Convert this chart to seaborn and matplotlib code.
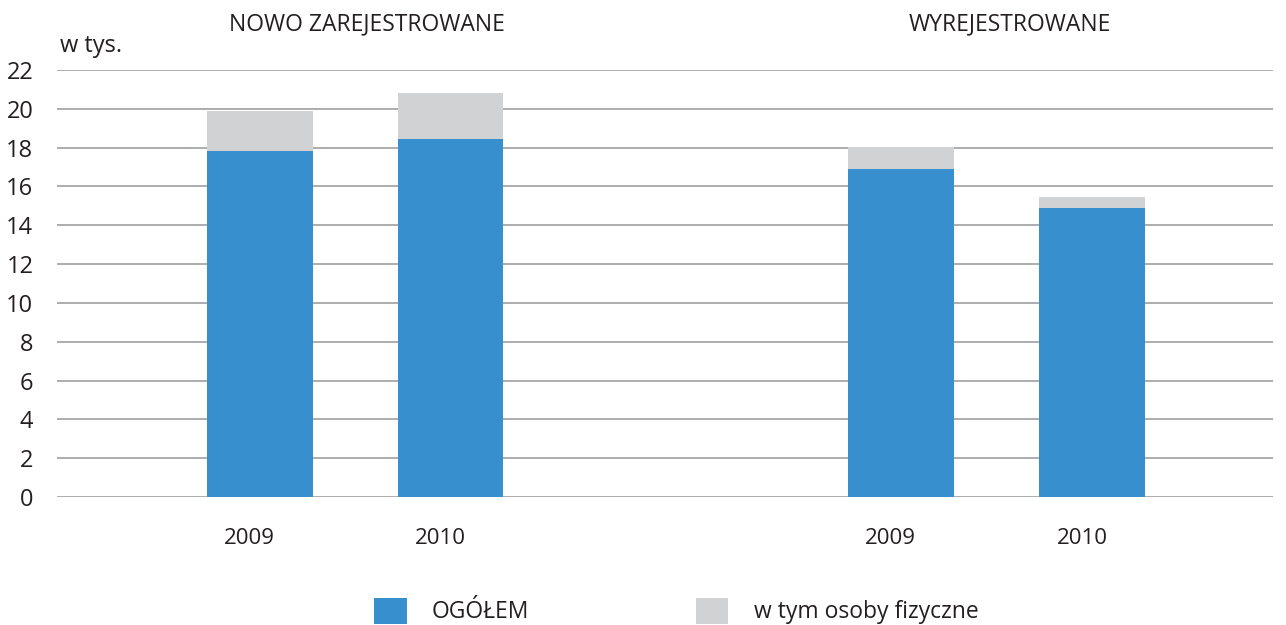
import matplotlib
matplotlib.use("Agg")
import matplotlib.pyplot as plt
import seaborn as sns
import pandas as pd
from matplotlib.patches import Patch

# ---- data ----
groups = ["NOWO ZAREJESTROWANE", "NOWO ZAREJESTROWANE", "WYREJESTROWANE", "WYREJESTROWANE"]
years = ["2009", "2010", "2009", "2010"]
ogolem = [17.83, 18.45, 16.91, 14.90]          # blue segment
osoby_fizyczne = [2.06, 2.37, 1.13, 0.57]      # grey segment on top
group_titles = ["NOWO ZAREJESTROWANE", "WYREJESTROWANE"]
legend_labels = ["OGÓŁEM", "w tym osoby fizyczne"]
y_ticks = [0, 2, 4, 6, 8, 10, 12, 14, 16, 18, 20, 22]

# ---- layout ----
positions = [0.0, 1.0, 3.365, 4.37]
BLUE = "#388fcd"
GREY = "#d1d2d4"
TEXT = "#231f20"

sns.set_theme(style="white")
plt.rcParams["font.family"] = ["Open Sans", "DejaVu Sans"]

df = pd.DataFrame({
    "group": groups,
    "year": years,
    "pos": positions,
    "ogolem": ogolem,
    "fiz": osoby_fizyczne,
})
df["total"] = df["ogolem"] + df["fiz"]

fig = plt.figure(figsize=(12.86, 6.25), dpi=100)
ax = fig.add_axes([57 / 1286, 1 - 497 / 625, (1273 - 57) / 1286, (497 - 70) / 625])

bar_w = 0.556
sns.barplot(data=df, x="pos", y="total", native_scale=True, color=GREY,
            saturation=1, width=bar_w, ax=ax, errorbar=None, zorder=3,
            linewidth=0, edgecolor="none")
sns.barplot(data=df, x="pos", y="ogolem", native_scale=True, color=BLUE,
            saturation=1, width=bar_w, ax=ax, errorbar=None, zorder=3,
            linewidth=0, edgecolor="none")

ax.set_xlim(-1.066, 5.318)
ax.set_ylim(0, 22)
ax.set_yticks(y_ticks)
ax.set_yticklabels([str(t) for t in y_ticks], fontsize=17, color=TEXT)
ax.set_xticks(df["pos"] - 0.055)
ax.set_xticklabels(df["year"], fontsize=16, color=TEXT)
ax.tick_params(axis="y", length=0, pad=17)
ax.tick_params(axis="x", length=0, pad=22)
ax.set_xlabel("")
ax.set_ylabel("")
for s in ax.spines.values():
    s.set_visible(False)
ax.yaxis.grid(True, color="#a7a7a7", linewidth=1.3)
ax.xaxis.grid(False)
ax.set_axisbelow(True)

# group titles
fig.text(367 / 1286, 1 - 24 / 625, group_titles[0], ha="center", va="center",
         fontsize=16.5, color=TEXT)
fig.text(1010 / 1286, 1 - 24 / 625, group_titles[1], ha="center", va="center",
         fontsize=16.5, color=TEXT)
fig.text(60 / 1286, 1 - 46 / 625, "w tys.", ha="left", va="center",
         fontsize=17, color=TEXT)

handles = [Patch(facecolor=BLUE, edgecolor="none"), Patch(facecolor=GREY, edgecolor="none")]
fig.legend(handles, legend_labels, loc="center", bbox_to_anchor=(0.526, 1 - 611 / 625),
           ncol=2, frameon=False, fontsize=16.5, handlelength=1.4, handleheight=1.4,
           handletextpad=1.1, columnspacing=7.3, labelcolor=TEXT)

fig.savefig("out.png", dpi=100)
